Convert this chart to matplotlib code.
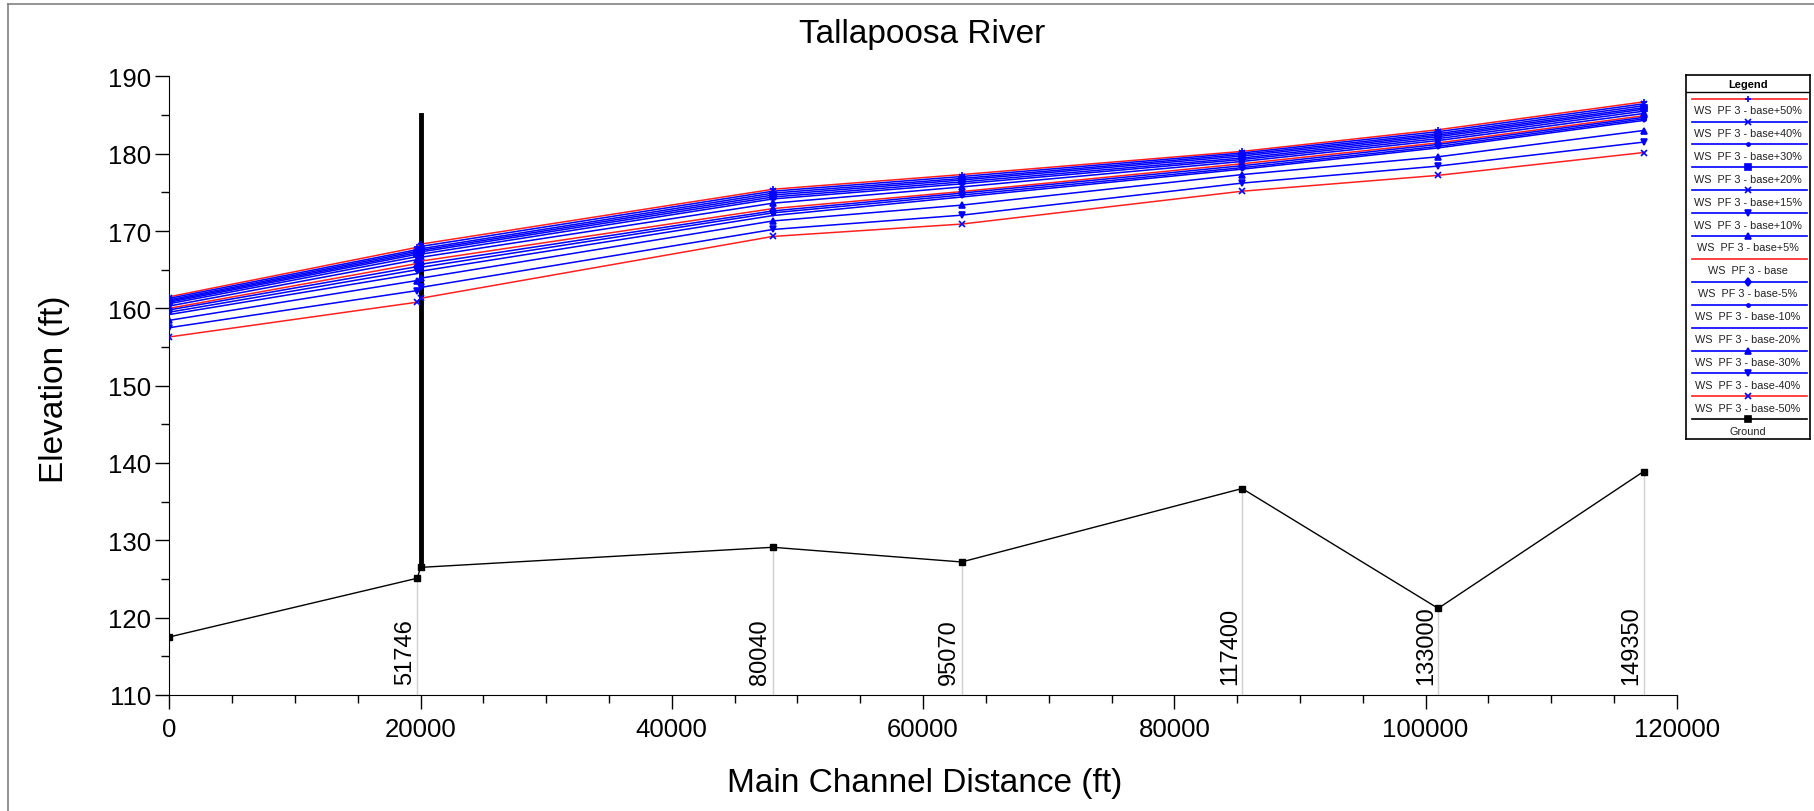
import matplotlib.pyplot as plt
from matplotlib.lines import Line2D
from matplotlib.ticker import MultipleLocator

plt.rcParams['font.family'] = ['Liberation Sans', 'DejaVu Sans']

# main channel distance (ft) of each cross section, downstream -> upstream
dist = [0, 19746, 20000, 48040, 63070, 85400, 101000, 117350]
river_sta = ['', '51746', '', '80040', '95070', '117400', '133000', '149350']
ground = [117.5, 125.1, 126.5, 129.1, 127.2, 136.7, 121.2, 138.9]
structure_top = 185.0

# water surface elevations (ft), profile PF 3
ws_p50 = [161.5, 167.9, 168.3, 175.4, 177.3, 180.3, 183.1, 186.7]
ws_p40 = [161.3, 167.6, 168.0, 175.15, 177.05, 180.1, 182.85, 186.45]
ws_p30 = [161.1, 167.4, 167.7, 174.9, 176.8, 179.9, 182.6, 186.2]
ws_p20 = [160.95, 167.2, 167.5, 174.65, 176.6, 179.7, 182.4, 185.95]
ws_p15 = [160.8, 167.0, 167.3, 174.4, 176.35, 179.45, 182.2, 185.75]
ws_p10 = [160.6, 166.7, 167.0, 174.15, 176.1, 179.25, 181.95, 185.5]
ws_p5 = [160.3, 166.3, 166.6, 173.6, 175.7, 179.0, 181.7, 185.2]
ws_base = [160.0, 165.8, 166.1, 172.9, 175.1, 178.7, 181.4, 184.9]
ws_m5 = [159.8, 165.4, 165.7, 172.6, 174.9, 178.45, 181.2, 184.7]
ws_m10 = [159.5, 165.0, 165.3, 172.35, 174.65, 178.2, 180.95, 184.5]
ws_m20 = [159.2, 164.5, 164.8, 172.0, 174.4, 178.0, 180.75, 184.3]
ws_m30 = [158.45, 163.6, 163.9, 171.3, 173.35, 177.3, 179.6, 183.0]
ws_m40 = [157.5, 162.3, 162.7, 170.2, 172.05, 176.2, 178.4, 181.5]
ws_m50 = [156.3, 160.8, 161.3, 169.3, 170.9, 175.15, 177.2, 180.15]

profiles = ['base+50%', 'base+40%', 'base+30%', 'base+20%', 'base+15%',
            'base+10%', 'base+5%', 'base', 'base-5%', 'base-10%',
            'base-20%', 'base-30%', 'base-40%', 'base-50%']
ws_all = [ws_p50, ws_p40, ws_p30, ws_p20, ws_p15, ws_p10, ws_p5,
          ws_base, ws_m5, ws_m10, ws_m20, ws_m30, ws_m40, ws_m50]

RED = '#ff2020'
BLUE = '#0000ff'
line_colors = [RED, BLUE, BLUE, BLUE, BLUE, BLUE, BLUE,
               RED, BLUE, BLUE, BLUE, BLUE, BLUE, RED]
markers = ['+', 'x', '.', 's', 'x', 'v', '^',
           '', 'd', '.', '', '^', 'v', 'x']

fig = plt.figure(figsize=(18.14, 8.12), dpi=100)
ax = fig.add_axes([0.0933, 0.1429, 0.8311, 0.7618])

# station lines and labels
for x, g, rs in zip(dist, ground, river_sta):
    if not rs:
        continue
    ax.plot([x, x], [110, g], color='#cfcfcf', lw=1, zorder=1)
    ax.annotate(rs, xy=(x, 110), xytext=(-1, 8), textcoords='offset points',
                rotation=90, ha='right', va='bottom', fontsize=17)

# water surfaces
for ws, c, m in zip(ws_all, line_colors, markers):
    ax.plot(dist, ws, color=c, lw=1.1, marker=m if m else None,
            ms=5, mfc=BLUE, mec=BLUE, mew=1.2, zorder=3)

# ground profile and structure
ax.plot([dist[2], dist[2]], [ground[2], structure_top], color='black', lw=3.5, zorder=2)
ax.plot(dist, ground, color='black', lw=1, marker='s', ms=4.5, zorder=4)

ax.set_xlim(0, 120000)
ax.set_ylim(110, 190)
ax.xaxis.set_major_locator(MultipleLocator(20000))
ax.xaxis.set_minor_locator(MultipleLocator(5000))
ax.yaxis.set_major_locator(MultipleLocator(10))
ax.yaxis.set_minor_locator(MultipleLocator(5))
ax.tick_params(which='major', length=10, width=1, labelsize=18.5)
ax.tick_params(axis='x', which='major', pad=6)
ax.tick_params(axis='y', which='major', pad=3)
ax.tick_params(which='minor', length=5.5, width=1)
ax.spines['top'].set_visible(False)
ax.spines['right'].set_visible(False)

fig.text(922 / 1814, 1 - 35 / 812, 'Tallapoosa River', fontsize=24,
         ha='center', va='center')
fig.text(925 / 1814, 1 - 784 / 812, 'Main Channel Distance (ft)', fontsize=24,
         ha='center', va='center')
fig.text(54 / 1814, 1 - 389 / 812, 'Elevation (ft)', fontsize=24,
         ha='center', va='center', rotation=90)

# legend panel
lax = fig.add_axes([1686 / 1814, 1 - 440 / 812, 124 / 1814, 364 / 812])
lax.set_xlim(0, 124)
lax.set_ylim(364, 0)
lax.set_xticks([])
lax.set_yticks([])
for sp in lax.spines.values():
    sp.set_linewidth(1.2)
lax.axhline(17, color='black', lw=1)
lax.text(62, 8.5, 'Legend', fontsize=8, fontweight='bold', ha='center', va='center')
entries = [('WS  PF 3 - ' + p, c, m) for p, c, m in zip(profiles, line_colors, markers)]
entries.append(('Ground', 'black', 's'))
for i, (label, c, m) in enumerate(entries):
    y = 23.6 + 22.9 * i
    lax.plot([6, 121], [y, y], color=c, lw=1.2)
    if m:
        mc = 'black' if label == 'Ground' else BLUE
        lax.plot([62], [y], marker=m, ms=4.5, mfc=mc, mec=mc, mew=1.2)
    lax.text(62, y + 11.5, label, fontsize=7.8, color='#222222', ha='center', va='center')

# outer frame
fig.add_artist(Line2D([7.5 / 1814, 7.5 / 1814], [0, 1 - 5 / 812], color='#808080', lw=1.2))
fig.add_artist(Line2D([7.5 / 1814, 1], [1 - 5 / 812, 1 - 5 / 812], color='#808080', lw=1.2))

fig.savefig('out.png', dpi=100)
